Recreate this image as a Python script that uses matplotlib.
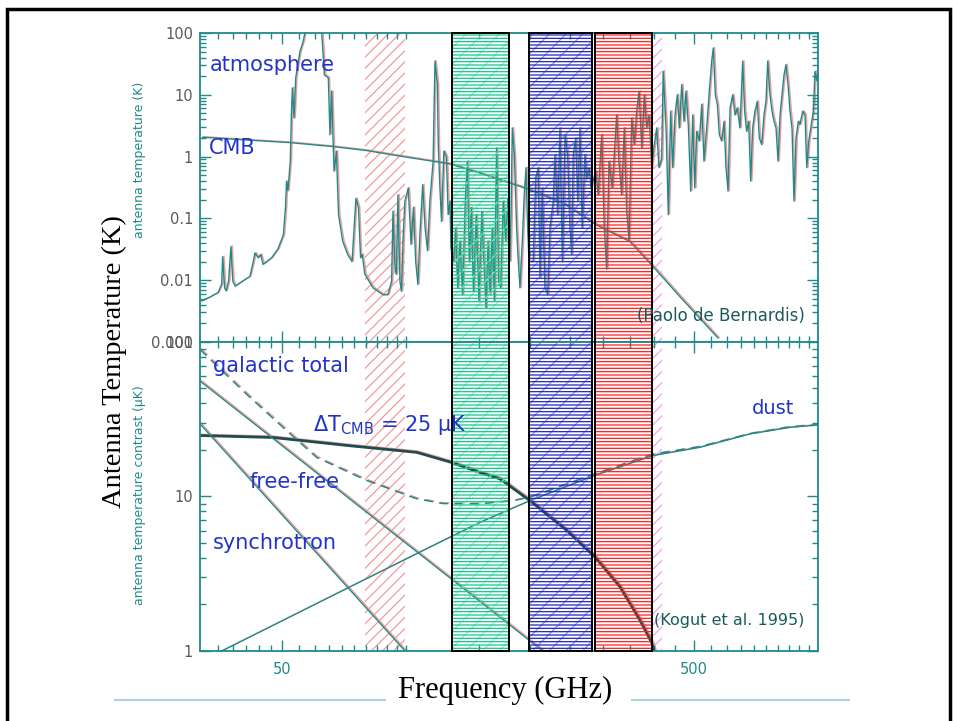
import matplotlib.pyplot as plt
import matplotlib.transforms as mtransforms
from matplotlib.patches import Rectangle
from matplotlib.lines import Line2D
from matplotlib.ticker import FixedLocator, NullFormatter, LogLocator

# atmosphere spectrum (GHz, K)
atm_freq = [31.9, 33.4, 35.0, 35.7, 35.9, 36.3, 36.6, 37.1, 37.6, 38.0, 38.5, 40.0, 41.8,
            42.6, 43.0, 43.8, 44.4, 45.0, 47.2, 48.9, 50.4, 51.0, 51.3, 51.7, 52.4, 52.7,
            53.0, 53.5, 54.0, 55.3, 56.3, 57.3, 62.3, 63.4, 64.8, 65.4, 66.0, 66.6, 66.9,
            67.8, 68.6, 70.2, 72.2, 74.0, 75.6, 76.7, 77.6, 78.3, 79.5, 83.2, 88.0, 90.4,
            92.3, 93.0, 94.1, 94.8, 95.6, 96.7, 97.5, 98.5, 99.4, 101.3, 102.9, 104.3,
            105.6, 106.9, 108.1, 109.8, 111.3, 112.8, 114.3, 116.4, 117.6, 119.2, 119.8,
            120.9, 122.0, 123.6, 125.4, 126.6, 127.9, 128.6, 130.6, 132.0, 133.5, 135.2,
            137.2, 139.3, 140.9, 142.5, 144.1, 145.8, 148.1, 150.4, 152.8, 154.6, 156.4,
            158.2, 160.1, 162.0, 163.9, 165.9, 167.8, 169.8, 172.2, 174.6, 176.7, 178.8,
            179.9, 181.2, 183.3, 185.6, 187.4, 189.1, 191.6, 193.7, 195.6, 197.4, 198.9,
            203.7, 206.5, 209.5, 211.5, 214.2, 217.5, 220.8, 223.6, 227.8, 230.0, 233.5,
            236.5, 239.7, 243.3, 246.9, 250.1, 252.5, 254.7, 258.2, 261.2, 264.4, 267.8,
            271.9, 274.6, 278.2, 281.3, 288.7, 293.0, 298.6, 303.0, 307.0, 311.1, 316.8,
            324.6, 328.8, 333.8, 338.8, 343.4, 347.9, 353.1, 358.3, 363.1, 367.9, 373.5,
            378.9, 383.9, 389.0, 394.9, 400.6, 406.0, 411.2, 417.4, 421.1, 427.9, 433.3,
            439.1, 444.1, 449.9, 455.7, 460.9, 467.0, 473.1, 478.3, 484.5, 491.1, 496.7,
            502.3, 507.9, 515.3, 522.3, 528.9, 536.9, 544.9, 552.2, 557.2, 563.6, 569.9,
            576.3, 583.9, 591.5, 598.2, 605.0, 611.8, 621.1, 629.1, 637.3, 646.7, 656.6,
            663.9, 671.4, 678.9, 686.6, 694.3, 703.3, 712.5, 720.5, 730.2, 739.7, 747.9,
            755.1, 764.9, 773.6, 782.3, 791.1, 800.0, 809.0, 818.1, 827.3, 836.4, 847.2,
            855.4, 865.0, 874.7, 884.6, 896.0, 904.4, 918.3, 930.3, 939.2, 949.8, 960.5,
            974.4, 983.7, 993.1, 1000.0]
atm_temp = [0.0046, 0.0053, 0.0063, 0.0086, 0.024, 0.0075, 0.0067, 0.0096, 0.035, 0.0096,
            0.008, 0.0095, 0.0115, 0.020, 0.0275, 0.023, 0.026, 0.018, 0.023, 0.032, 0.054,
            0.15, 0.40, 0.28, 0.86, 4.7, 12.9, 4.2, 18.7, 50, 73, 130, 130, 21, 18.7, 2.26,
            11.4, 1.56, 0.58, 1.22, 0.115, 0.043, 0.026, 0.020, 0.21, 0.15, 0.023, 0.026,
            0.0124, 0.0075, 0.0058, 0.0058, 0.0096, 0.13, 0.015, 0.0124, 0.24, 0.0096,
            0.0066, 0.054, 0.19, 0.31, 0.038, 0.15, 0.020, 0.0085, 0.054, 0.35, 0.07, 0.030,
            0.19, 0.84, 35, 14.6, 1.56, 0.31, 0.089, 1.22, 0.98, 0.115, 0.19, 0.033, 0.020,
            0.07, 0.0075, 0.043, 0.0058, 0.19, 0.84, 0.020, 0.15, 0.0066, 0.115, 0.0046,
            0.13, 0.020, 0.0035, 0.043, 0.0058, 0.07, 0.0046, 1.38, 0.0096, 0.0075, 0.19,
            0.043, 0.21, 0.020, 0.115, 2.9, 1.07, 0.07, 0.020, 0.0075, 0.043, 0.24, 0.66,
            0.07, 0.020, 0.020, 0.45, 0.66, 0.011, 0.31, 0.0075, 0.0058, 0.07, 0.19, 1.07,
            0.115, 2.9, 0.020, 2.26, 1.07, 0.07, 0.026, 1.07, 2.0, 0.19, 2.9, 0.07, 1.07,
            0.45, 0.66, 0.31, 0.58, 0.24, 2.26, 0.07, 0.015, 0.84, 0.31, 4.7, 0.84, 0.24,
            2.9, 0.13, 0.043, 4.2, 1.56, 5.4, 11.4, 1.38, 10, 2.9, 4.7, 0.66, 1.56, 2.9,
            0.66, 0.9, 24, 2.9, 0.115, 5.4, 0.66, 4.7, 10, 2.9, 14.6, 3.7, 11.4, 3.3, 0.275,
            4.7, 0.31, 2.55, 1.78, 7.0, 0.84, 2.9, 11.4, 35, 57, 10, 7.0, 2.26, 1.78, 3.7,
            0.66, 0.275, 6.1, 10, 4.7, 6.1, 2.9, 35, 5.4, 2.55, 3.7, 0.40, 2.9, 5.4, 7.8,
            2.0, 1.56, 4.7, 7.8, 35, 10, 5.4, 3.7, 2.9, 0.84, 4.7, 10, 21, 30.6, 12.9, 5.4,
            2.9, 0.19, 2.0, 3.7, 3.3, 5.4, 4.7, 0.66, 1.78, 2.9, 5.4, 24, 17, 24]

# CMB antenna temperature (K)
cmb_freq = [32.1, 52.3, 66.5, 80.3, 98.3, 127.9, 151.2, 200.0, 240.5, 290.3, 349.7, 394.9, 462.5, 571.9]
cmb_temp = [2.05, 1.68, 1.45, 1.25, 1.0, 0.76, 0.54, 0.29, 0.177, 0.078, 0.042, 0.0176, 0.0054, 0.00116]

# lower panel, antenna temperature contrast (uK)
dtcmb_freq = [31.6, 47.5, 73.1, 106.2, 129.1, 151.2, 169.1, 200.0, 245.6, 287.5, 330.7, 369.8, 394.9, 400.6]
dtcmb_val = [24.8, 24.1, 21.3, 19.3, 16.6, 14.3, 13.0, 9.4, 6.03, 4.06, 2.6, 1.58, 1.13, 1.0]
galtot_freq = [31.6, 41.0, 50.3, 60.7, 80.3, 106.2, 123.0, 151.2, 181.9, 200.0, 287.5, 394.0, 517.1, 683.9, 855.0, 1000.0]
galtot_val = [89.7, 46.0, 28.0, 17.9, 12.7, 9.67, 9.0, 8.97, 9.4, 9.9, 14.0, 18.7, 21.0, 25.5, 28.2, 29.1]
freefree_freq = [31.6, 214.9]
freefree_val = [56.0, 1.0]
sync_freq = [31.6, 99.5]
sync_val = [29.6, 1.0]
dust_freq = [35.7, 73.1, 108.1, 151.2, 200.0, 287.5, 397.7, 517.1, 683.9, 855.0, 1000.0]
dust_val = [1.0, 2.6, 4.37, 6.8, 9.4, 13.7, 18.4, 20.8, 25.4, 28.0, 29.0]

# observing bands (GHz)
hatch_lo = [79.5, 394.9]
hatch_hi = [99.4, 417.4]
box_lo = [129.1, 199.3, 287.5]
box_hi = [177.8, 283.3, 394.9]

x_major = [50, 500]
x_minor = [35, 38, 41, 44, 47, 55, 60, 65, 70, 75, 80, 85, 90, 95, 100, 150, 200, 250,
           300, 350, 400, 450, 550, 600, 650, 700, 750, 800, 850, 900, 950]
top_yticks = [0.001, 0.01, 0.1, 1, 10, 100]
top_ylabels = ['0.001', '0.01', '0.1', '1', '10', '100']
bot_yticks = [1, 10, 100]
bot_ylabels = ['1', '10', '100']

TEAL = '#1f8a8a'
GHOST = '#f29a9a'
BLUE = '#2233cc'

plt.rcParams['hatch.linewidth'] = 0.9
fig = plt.figure(figsize=(9.54, 7.21), dpi=100)
ax_top = fig.add_axes([0.2096, 0.5257, 0.6478, 0.4286])
ax_bot = fig.add_axes([0.2096, 0.0971, 0.6478, 0.4286])


def trace(ax, x, y, lw=1.0, ls='-', color=TEAL):
    shift = mtransforms.offset_copy(ax.transData, fig=fig, x=1.3, y=0.6, units='dots')
    ax.plot(x, y, color=GHOST, lw=lw, ls=ls, transform=shift, zorder=1.5)
    ax.plot(x, y, color=color, lw=lw, ls=ls, zorder=2)


for ax in (ax_top, ax_bot):
    ax.set_xscale('log')
    ax.set_yscale('log')
    ax.set_xlim(10 ** 1.5, 1000)
    # hatched bands, drawn over the curves so the curves show between the lines
    ax.axvspan(hatch_lo[0], hatch_hi[0], facecolor='none', edgecolor='#f39a9a', hatch='///', lw=0, zorder=1)
    ax.axvspan(hatch_lo[1], hatch_hi[1], facecolor='none', edgecolor='#f3a0ef', hatch='///', lw=0, zorder=1)
    ax.axvspan(box_lo[0], box_hi[0], facecolor='none', edgecolor='#95f0b8', hatch='//', lw=0, zorder=3)
    ax.axvspan(box_lo[0], box_hi[0], facecolor='none', edgecolor='#12c890', hatch='-----', lw=0, zorder=3)
    ax.axvspan(box_lo[1], box_hi[1], facecolor='none', edgecolor='#7d93ff', hatch='//', lw=0, zorder=3)
    ax.axvspan(box_lo[1], box_hi[1], facecolor='none', edgecolor='#2424c0', hatch='-----', lw=0, zorder=3)
    ax.axvspan(box_lo[2], box_hi[2], facecolor='none', edgecolor='#ff2020', hatch='-----', lw=0, zorder=3)

    ax.set_xticks(x_major, labels=['50', '500'])
    ax.xaxis.set_minor_locator(FixedLocator(x_minor))
    ax.xaxis.set_minor_formatter(NullFormatter())
    ax.yaxis.set_minor_locator(LogLocator(base=10, subs=range(2, 10), numticks=20))
    ax.yaxis.set_minor_formatter(NullFormatter())
    ax.tick_params(which='both', direction='in', top=True, right=True, color=TEAL, width=1.0)
    ax.tick_params(which='major', length=8, labelsize=10.5, labelcolor='#5a5a5a', pad=5)
    ax.tick_params(which='minor', length=4)
    ax.tick_params(axis='x', labelcolor=TEAL, pad=8)
    for s in ax.spines.values():
        s.set_color(TEAL)
        s.set_linewidth(1.3)
        s.set_zorder(6)

trace(ax_top, atm_freq, atm_temp, lw=1.0)
trace(ax_top, cmb_freq, cmb_temp, lw=1.0)
ax_top.set_ylim(0.001, 100)
ax_top.set_yticks(top_yticks, labels=top_ylabels)
ax_top.tick_params(axis='x', labelbottom=False)

trace(ax_bot, dtcmb_freq, dtcmb_val, lw=2.0, color='#1b4f4f')
trace(ax_bot, galtot_freq, galtot_val, lw=1.1, ls=(0, (6, 4)))
trace(ax_bot, freefree_freq, freefree_val, lw=1.0)
trace(ax_bot, sync_freq, sync_val, lw=1.0)
trace(ax_bot, dust_freq, dust_val, lw=1.0)
ax_bot.set_ylim(1, 100)
ax_bot.set_yticks(bot_yticks, labels=bot_ylabels)

# black outlines of the three boxed bands, spanning both panels
blend = mtransforms.blended_transform_factory(ax_bot.transData, ax_bot.transAxes)
for lo, hi in zip(box_lo, box_hi):
    ax_bot.add_patch(Rectangle((lo, 0), hi - lo, 2, transform=blend, fill=False,
                               edgecolor='black', lw=1.4, clip_on=False, zorder=7))


def px(x, y):
    return x / 954, 1 - y / 721


lab = dict(color=BLUE, fontsize=15, ha='left', va='center', zorder=10)
fig.text(*px(210, 65), 'atmosphere', **lab)
fig.text(*px(209, 148), 'CMB', **lab)
fig.text(*px(213, 366), 'galactic total', **lab)
fig.text(*px(313, 425), r'ΔT$\mathregular{_{CMB}}$ = 25 μK', **lab)
fig.text(*px(250, 482), 'free-free', **lab)
fig.text(*px(213, 543), 'synchrotron', **lab)
fig.text(*px(752, 408), 'dust', **dict(lab, fontsize=14))
fig.text(*px(637, 316), '(Paolo de Bernardis)', color='#1b5a5a', fontsize=12, ha='left', va='center')
fig.text(*px(654, 620), '(Kogut et al. 1995)', color='#1b5a5a', fontsize=11.5, ha='left', va='center')

fig.text(*px(140, 160), 'antenna temperature (K)', color=TEAL, fontsize=9, rotation=90, ha='center', va='center')
fig.text(*px(140, 495), 'antenna temperature contrast (μK)', color=TEAL, fontsize=9, rotation=90, ha='center', va='center')

fig.text(*px(114, 362), 'Antenna Temperature (K)', family='Liberation Serif', fontsize=20.5,
         rotation=90, ha='center', va='center', color='black')
fig.text(*px(505, 690), 'Frequency (GHz)', family='Liberation Serif', fontsize=22,
         ha='center', va='center', color='black')

# slide decorations
fig.add_artist(Line2D([115 / 954, 385 / 954], [1 - 700 / 721] * 2, color='#a9d3d6', lw=1.5))
fig.add_artist(Line2D([632 / 954, 849 / 954], [1 - 700 / 721] * 2, color='#a9d3d6', lw=1.5))
fig.add_artist(Rectangle((7 / 954, -0.1), 943 / 954, 1.1 - 9 / 721, transform=fig.transFigure,
                         fill=False, edgecolor='black', lw=2.5))

fig.savefig('out.png', dpi=100)
